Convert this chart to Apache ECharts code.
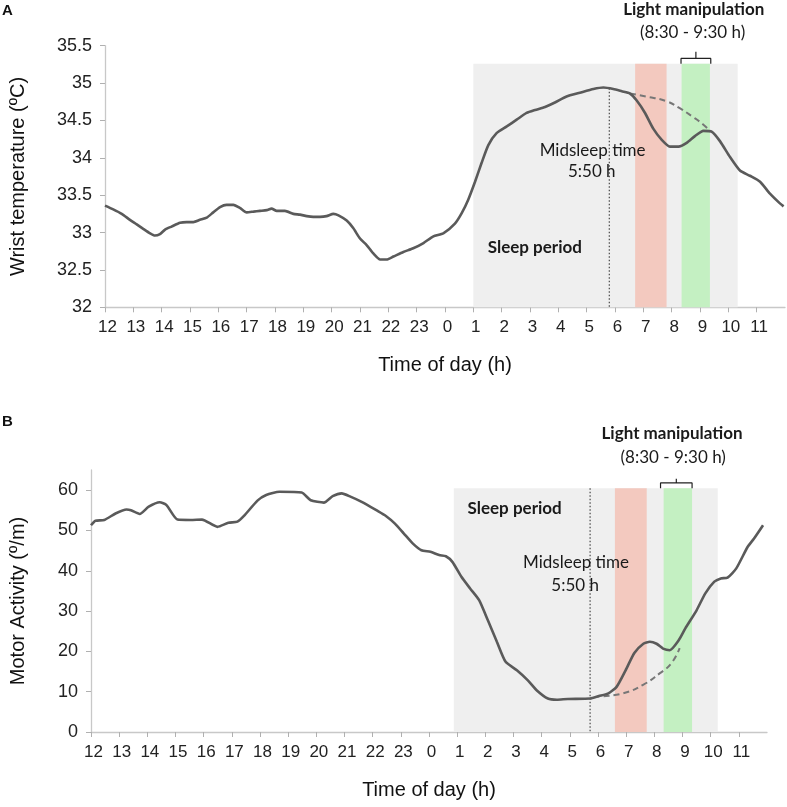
<!DOCTYPE html>
<html><head><meta charset="utf-8">
<script src="https://cdn.jsdelivr.net/npm/echarts@6/dist/echarts.min.js"></script>
<style>html,body{margin:0;padding:0;background:#fff}#c{width:787px;height:807px}</style>
</head><body><div id="c"></div>
<script>
// hours since 12:00 -> tick labels are clock hours
const hourTicks = [12,13,14,15,16,17,18,19,20,21,22,23,0,1,2,3,4,5,6,7,8,9,10,11];

// Panel A: wrist temperature (hours since 12:00, °C)
const tempHours = [0.00,0.29,0.59,0.88,1.12,1.35,1.59,1.76,1.94,2.12,2.35,2.65,2.88,3.12,3.35,3.59,3.82,4.06,4.29,4.53,4.76,5.00,5.24,5.47,5.71,5.88,6.06,6.35,6.65,6.88,7.12,7.35,7.59,7.82,8.06,8.24,8.53,8.76,9.00,9.24,9.47,9.71,9.94,10.18,10.53,10.88,11.24,11.59,11.94,12.35,12.59,12.82,13.06,13.29,13.53,13.82,14.18,14.53,14.88,15.18,15.53,15.88,16.29,16.76,17.24,17.59,17.94,18.24,18.53,18.76,19.06,19.35,19.65,19.94,20.24,20.53,20.82,21.12,21.41,21.71,22.06,22.41,22.76,23.12,23.47,23.82,23.95];
const tempValues = [33.36,33.31,33.25,33.17,33.11,33.05,32.99,32.96,32.98,33.04,33.08,33.13,33.14,33.14,33.17,33.20,33.27,33.34,33.37,33.37,33.33,33.27,33.28,33.29,33.30,33.32,33.29,33.29,33.25,33.24,33.22,33.21,33.21,33.22,33.25,33.23,33.16,33.06,32.92,32.83,32.72,32.64,32.64,32.68,32.74,32.79,32.86,32.95,32.99,33.12,33.26,33.44,33.68,33.93,34.17,34.33,34.42,34.51,34.60,34.64,34.68,34.74,34.82,34.87,34.92,34.94,34.92,34.89,34.86,34.77,34.60,34.39,34.24,34.15,34.15,34.20,34.29,34.36,34.35,34.22,34.01,33.83,33.76,33.68,33.52,33.39,33.35];
const tempDashHours = [18.53,19.10,19.80,20.30,20.70,21.10,21.35];
const tempDashValues = [34.86,34.82,34.76,34.66,34.56,34.45,34.36];

// Panel B: motor activity (hours since 12:00, °/m)
const actHours = [0.00,0.16,0.47,0.87,1.26,1.42,1.73,2.05,2.44,2.68,3.07,3.54,3.94,4.49,4.88,5.20,5.43,5.91,6.22,6.69,7.48,7.80,8.27,8.58,8.90,9.21,9.61,10.16,10.47,10.79,11.10,11.42,11.73,12.05,12.36,12.60,12.83,13.15,13.46,13.78,14.09,14.41,14.72,15.12,15.51,15.83,16.22,16.54,16.93,17.72,18.03,18.35,18.66,18.98,19.29,19.61,19.84,20.08,20.31,20.55,20.87,21.10,21.50,21.81,22.13,22.36,22.60,22.91,23.31,23.54,23.86];
const actValues = [51.3,52.4,52.6,54.2,55.2,55.0,54.1,55.9,57.0,56.3,52.7,52.6,52.7,50.9,51.9,52.2,53.6,57.4,58.8,59.6,59.4,57.5,56.9,58.5,59.2,58.4,57.1,54.9,53.6,51.7,49.3,46.8,45.1,44.7,43.9,43.6,42.2,38.5,35.6,32.7,27.7,22.4,17.4,15.3,12.8,10.3,8.3,8.0,8.2,8.3,8.9,9.5,11.2,15.3,19.6,21.9,22.4,21.9,20.7,20.3,22.8,25.7,30.2,34.4,37.3,38.1,38.3,40.6,45.9,48.0,51.3];
const actDashHours = [18.20,18.90,19.60,20.20,20.60,20.90];
const actDashValues = [8.9,9.6,11.7,14.6,17.0,20.8];

// shaded periods [start, end] in hours since 12:00
const tempSleep = [13.0, 22.33], tempRed = [18.71, 19.82], tempGreen = [20.35, 21.35];
const actSleep = [12.88, 22.25], actRed = [18.6, 19.73], actGreen = [20.33, 21.34];
const midsleep = 17.80;

const tempTicks = [32, 32.5, 33, 33.5, 34, 34.5, 35, 35.5];
const actTicks = [0, 10, 20, 30, 40, 50, 60];

const zip = (a, b) => a.map((x, i) => [x, b[i]]);
const GRAY = '#efefef', RED = '#f3c9bf', GREEN = '#c4f0c2', LINE = '#5a5a5a';

function xAxis(gi) {
  return {
    type: 'value', gridIndex: gi, min: 0, max: 24, interval: 1,
    axisLine: {lineStyle: {color: '#c8c8c8', width: 1.3}},
    axisTick: {show: true, length: 5, lineStyle: {color: '#b0b0b0'}},
    splitLine: {show: false},
    axisLabel: {showMaxLabel: false, margin: 12, padding: [0, 0, 0, 5], fontFamily: 'Liberation Sans', fontSize: 17, color: '#222',
      formatter: v => String(hourTicks[Math.round(v) % 24])},
    name: 'Time of day (h)', nameLocation: 'middle', nameGap: 48,
    nameTextStyle: {fontFamily: 'Liberation Sans', fontSize: 20, color: '#111'}
  };
}
function yAxis(gi, min, max, interval, ticks, name, gap, dec) {
  return {
    type: 'value', gridIndex: gi, min, max, interval,
    axisLine: {show: true, lineStyle: {color: '#c8c8c8', width: 1.3}},
    axisTick: {show: true, length: 5, customValues: ticks, lineStyle: {color: '#b0b0b0'}},
    splitLine: {show: false},
    axisLabel: {customValues: ticks, margin: 13, fontFamily: 'Liberation Sans', fontSize: 18, color: '#222',
      formatter: v => String(+v.toFixed(dec))},
    name, nameLocation: 'middle', nameGap: gap,
    nameTextStyle: {fontFamily: 'Liberation Sans', fontSize: 20, color: '#111'}
  };
}
function bands(gi, sleep, red, green, top, base) {
  return {
    type: 'line', xAxisIndex: gi, yAxisIndex: gi, data: [], z: 1, silent: true,
    markArea: {silent: true, data: [
      [{xAxis: sleep[0], yAxis: base, itemStyle: {color: GRAY}}, {xAxis: sleep[1], yAxis: top}],
      [{xAxis: red[0], yAxis: base, itemStyle: {color: RED}}, {xAxis: red[1], yAxis: top}],
      [{xAxis: green[0], yAxis: base, itemStyle: {color: GREEN}}, {xAxis: green[1], yAxis: top}]
    ]}
  };
}
function bracket(gi, x1, x2, yb, yt, yc) {
  const xc = (x1 + x2) / 2;
  return {type: 'line', xAxisIndex: gi, yAxisIndex: gi, symbol: 'none', z: 6, silent: true,
    data: [[x1, yb], [x1, yt], [xc, yt], [xc, yc], [xc, yt], [x2, yt], [x2, yb]],
    lineStyle: {color: '#222', width: 1.2}};
}

const chart = echarts.init(document.getElementById('c'), null, {renderer: 'canvas'});
chart.setOption({
  animation: false,
  grid: [
    {left: 105, top: 45.7, width: 680, height: 261.6},
    {left: 87, top: 470, width: 680, height: 262}
  ],
  xAxis: [xAxis(0), xAxis(1)],
  yAxis: [
    yAxis(0, 32, 35.5, 0.5, tempTicks, 'Wrist temperature (ºC)', 77, 1),
    yAxis(1, 0, 65, 10, actTicks, 'Motor Activity (º/m)', 63, 0)
  ],
  series: [
    bands(0, tempSleep, tempRed, tempGreen, 35.26, 32),
    bands(1, actSleep, actRed, actGreen, 60.5, 0),
    {type: 'line', xAxisIndex: 0, yAxisIndex: 0, symbol: 'none', z: 3, silent: true,
      data: [[midsleep, 34.93], [midsleep, 32]], lineStyle: {color: '#555', width: 1.3, type: [1.5, 2]}},
    {type: 'line', xAxisIndex: 1, yAxisIndex: 1, symbol: 'none', z: 3, silent: true,
      data: [[midsleep - 0.08, 60.5], [midsleep - 0.08, 0]], lineStyle: {color: '#555', width: 1.3, type: [1.5, 2]}},
    {type: 'line', xAxisIndex: 0, yAxisIndex: 0, symbol: 'none', z: 4, smooth: 0.5,
      data: zip(tempDashHours, tempDashValues), lineStyle: {color: '#777', width: 2, type: [6, 4]}},
    {type: 'line', xAxisIndex: 1, yAxisIndex: 1, symbol: 'none', z: 4, smooth: 0.5,
      data: zip(actDashHours, actDashValues), lineStyle: {color: '#777', width: 2, type: [6, 4]}},
    {type: 'line', xAxisIndex: 0, yAxisIndex: 0, symbol: 'none', z: 5, smooth: 0.2,
      data: zip(tempHours, tempValues), lineStyle: {color: LINE, width: 2.6}},
    {type: 'line', xAxisIndex: 1, yAxisIndex: 1, symbol: 'none', z: 5, smooth: 0.2,
      data: zip(actHours, actValues), lineStyle: {color: LINE, width: 2.6}},
    bracket(0, 20.33, 21.38, 35.26, 35.33, 35.42),
    bracket(1, 20.22, 21.34, 60.5, 61.8, 62.8)
  ]
});

// annotations placed in data coordinates
const notes = [
  [0, 15.17, 32.80, 'Sleep period', true],
  [0, 17.21, 34.10, 'Midsleep time', false],
  [0, 17.18, 33.81, '5:50 h', false],
  [0, 20.78, 35.98, 'Light manipulation', true],
  [0, 20.74, 35.68, '(8:30 - 9:30 h)', false],
  [1, 15.04, 55.47, 'Sleep period', true],
  [1, 17.22, 41.98, 'Midsleep time', false],
  [1, 17.19, 36.28, '5:50 h', false],
  [1, 20.63, 74.14, 'Light manipulation', true],
  [1, 20.67, 68.11, '(8:30 - 9:30 h)', false]
];
const graphics = notes.map(([g, x, y, t, b]) => {
  const p = chart.convertToPixel({gridIndex: g}, [x, y]);
  return {type: 'text', x: p[0], y: p[1], z: 20, style: {text: t, fill: '#1a1a1a',
    font: (b ? 'bold ' : '') + '17px Lato', align: 'center', verticalAlign: 'middle'}};
});
graphics.push({type: 'text', left: 2, top: 3, style: {text: 'A', font: 'bold 15px "Liberation Sans"', fill: '#111'}});
graphics.push({type: 'text', left: 2, top: 414, style: {text: 'B', font: 'bold 15px "Liberation Sans"', fill: '#111'}});
chart.setOption({graphic: graphics});
</script></body></html>
